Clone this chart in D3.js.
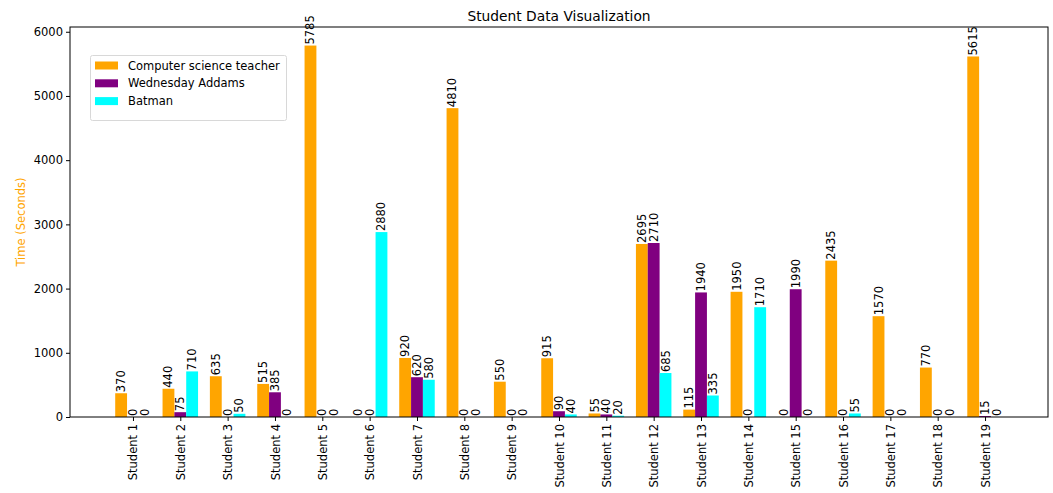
<!DOCTYPE html>
<html><head><meta charset="utf-8">
<script src="https://cdn.jsdelivr.net/npm/d3@7"></script>
<style>body{margin:0;background:#fff}text{font-family:"DejaVu Sans",sans-serif}</style>
</head><body><svg id="c" width="1053" height="493"></svg>
<script>
const categories = ["Student 1","Student 2","Student 3","Student 4","Student 5","Student 6","Student 7","Student 8","Student 9","Student 10","Student 11","Student 12","Student 13","Student 14","Student 15","Student 16","Student 17","Student 18","Student 19"];
const seriesNames = ["Computer science teacher","Wednesday Addams","Batman"];
const teacher = [370,440,635,515,5785,0,920,4810,550,915,55,2695,115,1950,0,2435,1570,770,5615];
const wednesday = [0,75,0,385,0,0,620,0,0,90,40,2710,1940,0,1990,0,0,0,15];
const batman = [0,710,50,0,0,2880,580,0,0,40,20,685,335,1710,0,55,0,0,0];
const yTicks = [0,1000,2000,3000,4000,5000,6000];
const colors = ["#FFA500","#800080","#00FFFF"];
const series = [teacher, wednesday, batman];

const svg = d3.select("#c");
const L=70, R=1048, T=27, B=417;
const bw = 0.25;
const x = d3.scaleLinear().domain([-1.33, 19.33]).range([L, R]);
const y = d3.scaleLinear().domain([0, 6074]).range([B, T]);
const fs = 11.5;

// bars
series.forEach((vals, si) => {
  const off = (si - 1) * bw;
  const g = svg.append("g");
  g.selectAll("rect").data(vals).join("rect")
    .attr("x", (d,i) => x(i + off - bw/2))
    .attr("width", x(bw) - x(0))
    .attr("y", d => y(d))
    .attr("height", d => B - y(d))
    .attr("fill", colors[si]);
  g.selectAll("text").data(vals).join("text")
    .attr("transform", (d,i) => `translate(${x(i+off)},${y(d)-1}) rotate(-90)`)
    .attr("dominant-baseline","central")
    .attr("font-size", fs)
    .attr("fill","#000")
    .text(d => d);
});

// axes
const yAxis = d3.axisLeft(y).tickValues(yTicks).tickFormat(d3.format("d")).tickSize(4).tickPadding(3);
const gy = svg.append("g").attr("transform",`translate(${L},0)`).call(yAxis);
gy.select(".domain").remove();
gy.selectAll("text").attr("font-size", fs).attr("fill","#000").style("font-family","DejaVu Sans");
gy.selectAll("line").attr("stroke","#000");

const xAxis = d3.axisBottom(x).tickValues(d3.range(categories.length)).tickFormat(i => categories[i]).tickSize(4);
const gx = svg.append("g").attr("transform",`translate(0,${B})`).call(xAxis);
gx.select(".domain").remove();
gx.selectAll("line").attr("stroke","#000");
gx.selectAll("text").attr("font-size", fs).attr("fill","#000").style("font-family","DejaVu Sans")
  .attr("transform","rotate(-90)").attr("text-anchor","end").attr("dy","0.35em").attr("x",-7).attr("y",0);

// frame
svg.append("rect").attr("x",L).attr("y",T).attr("width",R-L).attr("height",B-T)
  .attr("fill","none").attr("stroke","#000").attr("stroke-width",1);

// title
svg.append("text").attr("x",(L+R)/2).attr("y",21).attr("text-anchor","middle")
  .attr("font-size",13.8).text("Student Data Visualization");

// y label
svg.append("text").attr("transform",`translate(25,${(T+B)/2}) rotate(-90)`).attr("text-anchor","middle")
  .attr("font-size",fs).attr("fill","#FFA500").text("Time (Seconds)");

// legend
const lg = svg.append("g");
lg.append("rect").attr("x",90.5).attr("y",55.5).attr("width",196).attr("height",65).attr("rx",2)
  .attr("fill","#fff").attr("fill-opacity",0.8).attr("stroke","#d8d8d8");
seriesNames.forEach((n,i) => {
  const yy = 65.5 + i*17.8;
  lg.append("rect").attr("x",95).attr("y",yy-4).attr("width",23).attr("height",8).attr("fill",colors[i]);
  lg.append("text").attr("x",128).attr("y",yy).attr("dominant-baseline","central").attr("font-size",fs).text(n);
});
</script></body></html>
